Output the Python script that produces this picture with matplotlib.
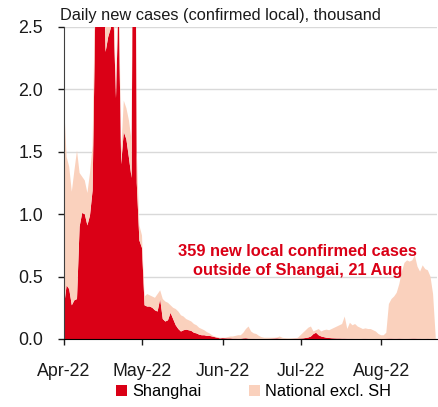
import pandas as pd
import matplotlib
matplotlib.use('Agg')
import matplotlib.pyplot as plt
import matplotlib.dates as mdates
from matplotlib.patches import Patch

plt.rcParams['font.family'] = ['Liberation Sans', 'DejaVu Sans']

# daily new confirmed local cases, thousand (1 Apr - 22 Aug 2022)
dates = pd.date_range('2022-04-01', periods=144, freq='D')

shanghai_apr = [0.26, 0.43, 0.40, 0.27, 0.31, 0.32, 0.90, 1.01, 1.00, 0.91,
                0.99, 1.19, 2.57, 3.20, 3.59, 3.24, 2.30, 2.42, 2.49, 2.63,
                1.93, 2.74, 1.40, 1.66, 1.60, 1.45, 1.29, 5.49, 1.25, 0.79]
shanghai_may = [0.73, 0.27, 0.26, 0.26, 0.25, 0.23, 0.22, 0.32, 0.16, 0.14,
                0.15, 0.21, 0.16, 0.11, 0.08, 0.06, 0.07, 0.075, 0.07, 0.065,
                0.05, 0.045, 0.035, 0.03, 0.03, 0.025, 0.025, 0.02, 0.015, 0.01,
                0.005]
shanghai_jun = [0.007, 0.006, 0.005, 0.005, 0.003, 0.003, 0.002, 0.002, 0.005, 0.006,
                0.003, 0.002, 0.002, 0.001, 0.001, 0.001, 0.001, 0.001, 0.002, 0.003,
                0.004, 0.005, 0.003, 0.001, 0.001, 0.0, 0.0, 0.001, 0.002, 0.003]
shanghai_jul = [0.004, 0.005, 0.008, 0.012, 0.02, 0.04, 0.05, 0.03, 0.02, 0.015,
                0.01, 0.008, 0.006, 0.005, 0.004, 0.004, 0.003, 0.003, 0.002, 0.002,
                0.002, 0.001, 0.001, 0.001, 0.002, 0.002, 0.001, 0.001, 0.001, 0.0,
                0.0]
shanghai_aug = [0.0, 0.001, 0.002, 0.003, 0.003, 0.002, 0.002, 0.003, 0.002, 0.001,
                0.001, 0.002, 0.003, 0.003, 0.002, 0.002, 0.001, 0.001, 0.002, 0.001,
                0.001, 0.0]

national_apr = [1.64, 1.03, 0.98, 0.91, 1.04, 1.19, 0.43, 0.29, 0.27, 0.26,
                0.34, 0.36, 0.25, 0.30, 0.30, 0.30, 0.15, 0.30, 0.30, 0.30,
                0.05, 0.30, 0.10, 0.25, 0.25, 0.30, 0.30, 0.30, 0.25, 0.12]
national_may = [0.10, 0.07, 0.10, 0.09, 0.09, 0.10, 0.14, 0.07, 0.16, 0.16,
                0.14, 0.06, 0.09, 0.13, 0.14, 0.13, 0.11, 0.085, 0.08, 0.075,
                0.07, 0.065, 0.055, 0.05, 0.04, 0.03, 0.02, 0.01, 0.005, 0.005,
                0.005]
national_jun = [0.003, 0.004, 0.01, 0.015, 0.017, 0.022, 0.028, 0.028, 0.045, 0.074,
                0.097, 0.058, 0.043, 0.039, 0.024, 0.014, 0.009, 0.009, 0.008, 0.007,
                0.006, 0.007, 0.017, 0.009, 0.005, 0.005, 0.005, 0.004, 0.004, 0.007]
national_jul = [0.026, 0.045, 0.062, 0.078, 0.08, 0.02, 0.02, 0.05, 0.04, 0.055,
                0.065, 0.062, 0.074, 0.085, 0.096, 0.106, 0.117, 0.177, 0.078, 0.128,
                0.108, 0.119, 0.099, 0.089, 0.078, 0.083, 0.079, 0.079, 0.069, 0.06,
                0.04]
national_aug = [0.03, 0.029, 0.048, 0.277, 0.317, 0.338, 0.368, 0.437, 0.538, 0.609,
                0.629, 0.618, 0.627, 0.667, 0.578, 0.538, 0.589, 0.559, 0.548, 0.499,
                0.359, 0.02]

shanghai = shanghai_apr + shanghai_may + shanghai_jun + shanghai_jul + shanghai_aug
national = national_apr + national_may + national_jun + national_jul + national_aug

red = '#DA0016'
peach = '#FAD1BD'

fig = plt.figure(figsize=(4.39, 4.07), dpi=100)
ax = fig.add_axes([0.1458, 0.1671, 0.8496, 0.7666])

ax.stackplot(dates, shanghai, national, colors=[red, peach], linewidth=0, zorder=2)

ax.set_ylim(0, 2.5)
ax.set_xlim(dates[0], dates[-1] + pd.Timedelta(hours=12))
ax.set_yticks([0.0, 0.5, 1.0, 1.5, 2.0, 2.5])
ax.yaxis.set_major_formatter(matplotlib.ticker.FormatStrFormatter('%.1f'))
ax.xaxis.set_major_locator(mdates.MonthLocator())
ax.xaxis.set_major_formatter(mdates.DateFormatter('%b-%y'))

ax.grid(axis='y', color='#D9D9D9', linewidth=1.0, zorder=0)
ax.set_axisbelow(True)
for s in ['top', 'right']:
    ax.spines[s].set_visible(False)
ax.spines['left'].set_color('#404040')
ax.spines['bottom'].set_color('#000000')
ax.tick_params(axis='both', labelsize=12.8, colors='#1A1A1A', length=4, width=1)
ax.tick_params(axis='y', pad=11)
ax.tick_params(axis='x', pad=13)

fig.text(0.137, 0.963, 'Daily new cases (confirmed local), thousand',
         fontsize=11.8, va='center', ha='left', color='#1A1A1A')

ax.text(dates[90], 0.625, '359 new local confirmed cases\noutside of Shangai, 21 Aug',
        color=red, fontsize=11.8, fontweight='bold', ha='center', va='center',
        linespacing=1.35, zorder=3)

handles = [Patch(facecolor=red, label='Shanghai'),
           Patch(facecolor=peach, label='National excl. SH')]
fig.legend(handles=handles, loc='center', bbox_to_anchor=(0.577, 0.037), ncol=2,
           frameon=False, fontsize=11.8, handlelength=0.7, handleheight=0.7,
           handletextpad=0.3, columnspacing=2.9, borderpad=0)

fig.savefig('out.png', dpi=100)
